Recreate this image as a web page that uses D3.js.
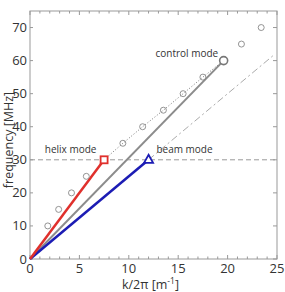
<!DOCTYPE html>
<html>
<head>
<meta charset="utf-8">
<script src="https://cdn.jsdelivr.net/npm/d3@7"></script>
<style>
  body { margin: 0; background: #fff; }
  text { font-family: "Open Sans", "DejaVu Sans", sans-serif; fill: #333; }
</style>
</head>
<body>
<svg id="chart" width="285" height="292"></svg>
<script>
// measured dispersion points (open circles)
const circleK = [1.8, 2.9, 4.2, 5.7, 9.4, 11.4, 13.5, 15.5, 17.5, 21.4, 23.4];
const circleF = [10, 15, 20, 25, 35, 40, 45, 50, 55, 65, 70];

// dotted curve from helix point up to control point
const dottedK = [7.5, 9.4, 11.4, 13.5, 15.5, 17.5, 19.6];
const dottedF = [30, 35, 40, 45, 50, 55, 60];

const helix = { k: 7.5, f: 30 };
const beam = { k: 12, f: 30 };
const control = { k: 19.6, f: 60 };
const beamExt = { k: 24.6, f: 61.5 };

const xTicks = [0, 5, 10, 15, 20, 25];
const yTicks = [0, 10, 20, 30, 40, 50, 60, 70];

const svg = d3.select("#chart");
const margin = { left: 30, right: 8, top: 11, bottom: 33 };
const width = 285 - margin.left - margin.right;
const height = 292 - margin.top - margin.bottom;

const x = d3.scaleLinear().domain([0, 25]).range([0, width]);
const y = d3.scaleLinear().domain([0, 75]).range([height, 0]);

const g = svg.append("g").attr("transform", `translate(${margin.left},${margin.top})`);

const axisColor = "#999";

// frame
g.append("rect")
  .attr("width", width)
  .attr("height", height)
  .attr("fill", "none")
  .attr("stroke", axisColor)
  .attr("stroke-width", 1);

// minor ticks top + bottom (inside)
const minor = d3.range(0, 26);
g.selectAll(".tick-top").data(minor).join("line")
  .attr("x1", d => x(d)).attr("x2", d => x(d))
  .attr("y1", 0).attr("y2", d => d % 5 === 0 ? 4 : 2.5)
  .attr("stroke", axisColor);
g.selectAll(".tick-bot").data(minor).join("line")
  .attr("x1", d => x(d)).attr("x2", d => x(d))
  .attr("y1", height).attr("y2", d => height - (d % 5 === 0 ? 4 : 2.5))
  .attr("stroke", axisColor);
// y ticks left + right
g.selectAll(".tick-l").data(yTicks).join("line")
  .attr("x1", 0).attr("x2", 3)
  .attr("y1", d => y(d)).attr("y2", d => y(d))
  .attr("stroke", axisColor);
g.selectAll(".tick-r").data(yTicks).join("line")
  .attr("x1", width).attr("x2", width - 4)
  .attr("y1", d => y(d)).attr("y2", d => y(d))
  .attr("stroke", axisColor);

// tick labels
g.selectAll(".xl").data(xTicks).join("text")
  .attr("x", d => x(d)).attr("y", height + 14)
  .attr("text-anchor", "middle")
  .attr("font-size", 13)
  .text(d => d);
g.selectAll(".yl").data(yTicks).join("text")
  .attr("x", -3).attr("y", d => y(d))
  .attr("dy", "0.35em")
  .attr("text-anchor", "end")
  .attr("font-size", 13)
  .text(d => d);

// axis titles
const xt = g.append("text")
  .attr("x", width / 2 - 3).attr("y", height + 30)
  .attr("text-anchor", "middle")
  .attr("font-size", 12.5);
xt.append("tspan").text("k/2\u03c0 [m");
xt.append("tspan").attr("dy", -5).attr("font-size", 8.5).text("-1");
xt.append("tspan").attr("dy", 5).text("]");

svg.append("text")
  .attr("transform", `translate(13,${margin.top + height / 2 + 5}) rotate(-90)`)
  .attr("text-anchor", "middle")
  .attr("font-size", 12.5)
  .text("frequency [MHz]");

// horizontal dashed line at 30 MHz
g.append("line")
  .attr("x1", x(0)).attr("x2", x(25))
  .attr("y1", y(30)).attr("y2", y(30))
  .attr("stroke", "#999")
  .attr("stroke-width", 1)
  .attr("stroke-dasharray", "5 3");

// dash-dot extension of beam line
g.append("line")
  .attr("x1", x(beam.k)).attr("y1", y(beam.f))
  .attr("x2", x(beamExt.k)).attr("y2", y(beamExt.f))
  .attr("stroke", "#aaa")
  .attr("stroke-width", 1)
  .attr("stroke-dasharray", "7 3 2 3");

// dotted curve
g.append("path")
  .datum(d3.zip(dottedK, dottedF))
  .attr("d", d3.line().x(d => x(d[0])).y(d => y(d[1])))
  .attr("fill", "none")
  .attr("stroke", "#777")
  .attr("stroke-width", 1)
  .attr("stroke-dasharray", "1 2");

// mode lines from origin
const modeLine = (p, color, w) => g.append("line")
  .attr("x1", x(0)).attr("y1", y(0))
  .attr("x2", x(p.k)).attr("y2", y(p.f))
  .attr("stroke", color)
  .attr("stroke-width", w);

modeLine(control, "#8c8c8c", 2);
modeLine(beam, "#1c1cb4", 2.5);
modeLine(helix, "#e0302c", 2.5);

// open circles
g.selectAll(".pt").data(d3.zip(circleK, circleF)).join("circle")
  .attr("cx", d => x(d[0])).attr("cy", d => y(d[1]))
  .attr("r", 3)
  .attr("fill", "none")
  .attr("stroke", "#888")
  .attr("stroke-width", 0.9);

// control marker
g.append("circle")
  .attr("cx", x(control.k)).attr("cy", y(control.f))
  .attr("r", 4)
  .attr("fill", "#fff")
  .attr("stroke", "#777")
  .attr("stroke-width", 1.6);

// helix square
g.append("rect")
  .attr("x", x(helix.k) - 3.5).attr("y", y(helix.f) - 3.5)
  .attr("width", 7).attr("height", 7)
  .attr("fill", "#fff")
  .attr("stroke", "#e0302c")
  .attr("stroke-width", 1.8);

// beam triangle
g.append("path")
  .attr("d", `M${x(beam.k)},${y(beam.f) - 5}L${x(beam.k) + 4.5},${y(beam.f) + 3}L${x(beam.k) - 4.5},${y(beam.f) + 3}Z`)
  .attr("fill", "#fff")
  .attr("stroke", "#1c1cb4")
  .attr("stroke-width", 1.8);

// annotations
const note = (k, f, t) => g.append("text")
  .attr("x", x(k)).attr("y", y(f))
  .attr("font-size", 10)
  .text(t);
note(1.5, 32.2, "helix mode");
note(12.7, 61, "control mode");
note(12.8, 32.2, "beam mode");
</script>
</body>
</html>
